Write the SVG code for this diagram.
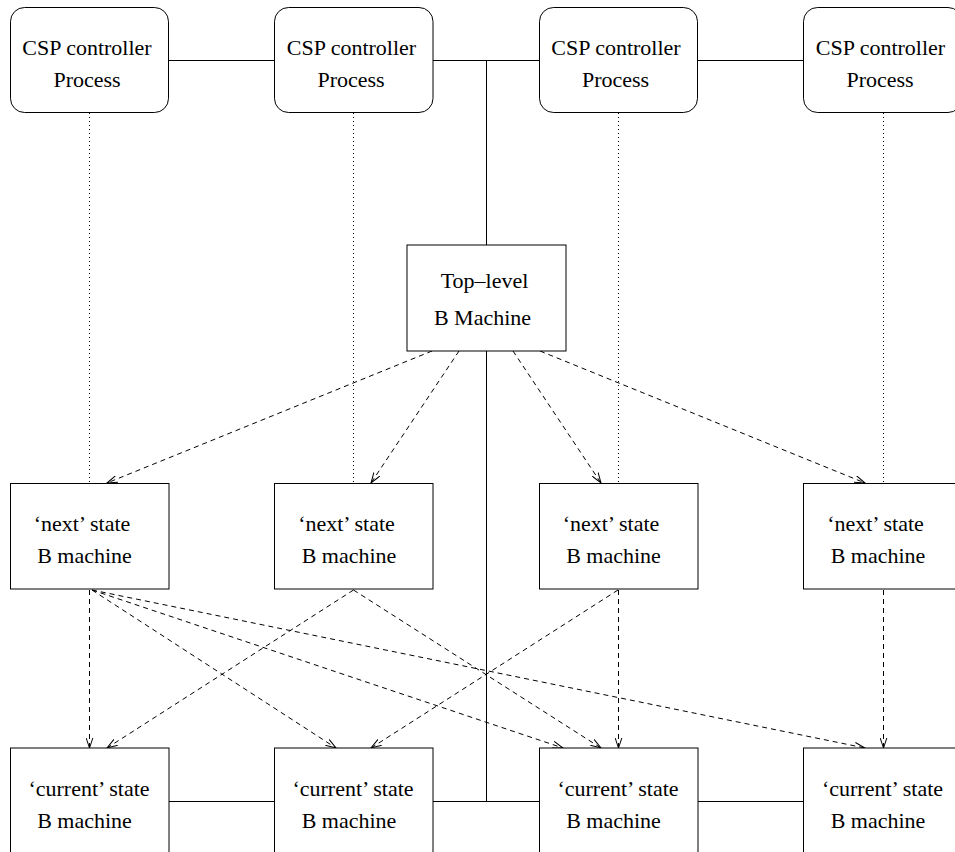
<svg xmlns="http://www.w3.org/2000/svg" width="955" height="852" viewBox="0 0 955 852">
<style>
  .box { fill: #fff; stroke: #000; stroke-width: 1; }
  .lbl { font-family: "Liberation Serif", "Times New Roman", serif; font-size: 22px; fill: #000; text-anchor: middle; }
  .solid { fill: none; stroke: #000; stroke-width: 1; }
  .dot { fill: none; stroke: #000; stroke-width: 1; stroke-dasharray: 1 3; }
  .dash { fill: none; stroke: #000; stroke-width: 1; stroke-dasharray: 5 4; marker-end: url(#ah); }
</style>
<defs>
  <marker id="ah" viewBox="0 0 11 8" refX="10.5" refY="4" markerWidth="11" markerHeight="8" orient="auto" markerUnits="userSpaceOnUse">
    <path d="M0,0.5 L10.5,4 L0,7.5" fill="none" stroke="#000" stroke-width="1" stroke-dasharray="none"/>
  </marker>
</defs>
<rect width="955" height="852" fill="#fff"/>

<g id="connectors">
  <path class="solid" d="M168,60.5 H274.5 M433,60.5 H539.5 M697,60.5 H803.5 M486.5,60.5 V245 M486.5,351 V801.5 M169,801.5 H274.5 M433,801.5 H539.5 M698,801.5 H803.5"/>
  <path class="dot" d="M89.5,113 V483 M353.5,113 V483 M618.5,113 V483 M883.5,113 V483"/>
  <path class="dash" d="M432,351 L107,483"/>
  <path class="dash" d="M459,351 L371,483"/>
  <path class="dash" d="M513,351 L601,483"/>
  <path class="dash" d="M540,351 L865,483"/>
  <path class="dash" d="M89.5,590 L89.5,748"/>
  <path class="dash" d="M92,590 L336,748"/>
  <path class="dash" d="M92,590 L563,748"/>
  <path class="dash" d="M92,590 L865,748"/>
  <path class="dash" d="M353.5,590 L107,748"/>
  <path class="dash" d="M353.5,590 L601,748"/>
  <path class="dash" d="M618,590 L371,748"/>
  <path class="dash" d="M618.5,590 L618.5,748"/>
  <path class="dash" d="M883.5,590 L883.5,748"/>
</g>

<g id="csp1"><rect class="box" x="10.5" y="7.5" width="158" height="105" rx="14"/><text class="lbl" x="87" y="55">CSP controller</text><text class="lbl" x="87" y="87">Process</text></g>
<g id="csp2"><rect class="box" x="274.5" y="7.5" width="158.5" height="105" rx="14"/><text class="lbl" x="351.5" y="55">CSP controller</text><text class="lbl" x="351" y="87">Process</text></g>
<g id="csp3"><rect class="box" x="539.5" y="7.5" width="158" height="105" rx="14"/><text class="lbl" x="616" y="55">CSP controller</text><text class="lbl" x="615.5" y="87">Process</text></g>
<g id="csp4"><rect class="box" x="803.5" y="7.5" width="158.5" height="105" rx="14"/><text class="lbl" x="880.5" y="55">CSP controller</text><text class="lbl" x="880" y="87">Process</text></g>

<g id="toplevel"><rect class="box" x="407" y="245" width="159" height="106"/><text class="lbl" x="484.5" y="288">Top–level</text><text class="lbl" x="482.5" y="325">B Machine</text></g>

<g id="next1"><rect class="box" x="10.5" y="483.5" width="158.5" height="105.5"/><text class="lbl" x="82" y="531">‘next’ state</text><text class="lbl" x="84.5" y="563">B machine</text></g>
<g id="next2"><rect class="box" x="274.5" y="483.5" width="158.5" height="105.5"/><text class="lbl" x="346.5" y="531">‘next’ state</text><text class="lbl" x="349" y="563">B machine</text></g>
<g id="next3"><rect class="box" x="539.5" y="483.5" width="158.5" height="105.5"/><text class="lbl" x="611" y="531">‘next’ state</text><text class="lbl" x="613.5" y="563">B machine</text></g>
<g id="next4"><rect class="box" x="803.5" y="483.5" width="158.5" height="105.5"/><text class="lbl" x="875.5" y="531">‘next’ state</text><text class="lbl" x="878" y="563">B machine</text></g>

<g id="cur1"><rect class="box" x="10.5" y="748" width="158.5" height="120"/><text class="lbl" x="89" y="796">‘current’ state</text><text class="lbl" x="84.5" y="828">B machine</text></g>
<g id="cur2"><rect class="box" x="274.5" y="748" width="158.5" height="120"/><text class="lbl" x="353" y="796">‘current’ state</text><text class="lbl" x="349" y="828">B machine</text></g>
<g id="cur3"><rect class="box" x="539.5" y="748" width="158.5" height="120"/><text class="lbl" x="618" y="796">‘current’ state</text><text class="lbl" x="613.5" y="828">B machine</text></g>
<g id="cur4"><rect class="box" x="803.5" y="748" width="158.5" height="120"/><text class="lbl" x="882.5" y="796">‘current’ state</text><text class="lbl" x="878" y="828">B machine</text></g>
</svg>
